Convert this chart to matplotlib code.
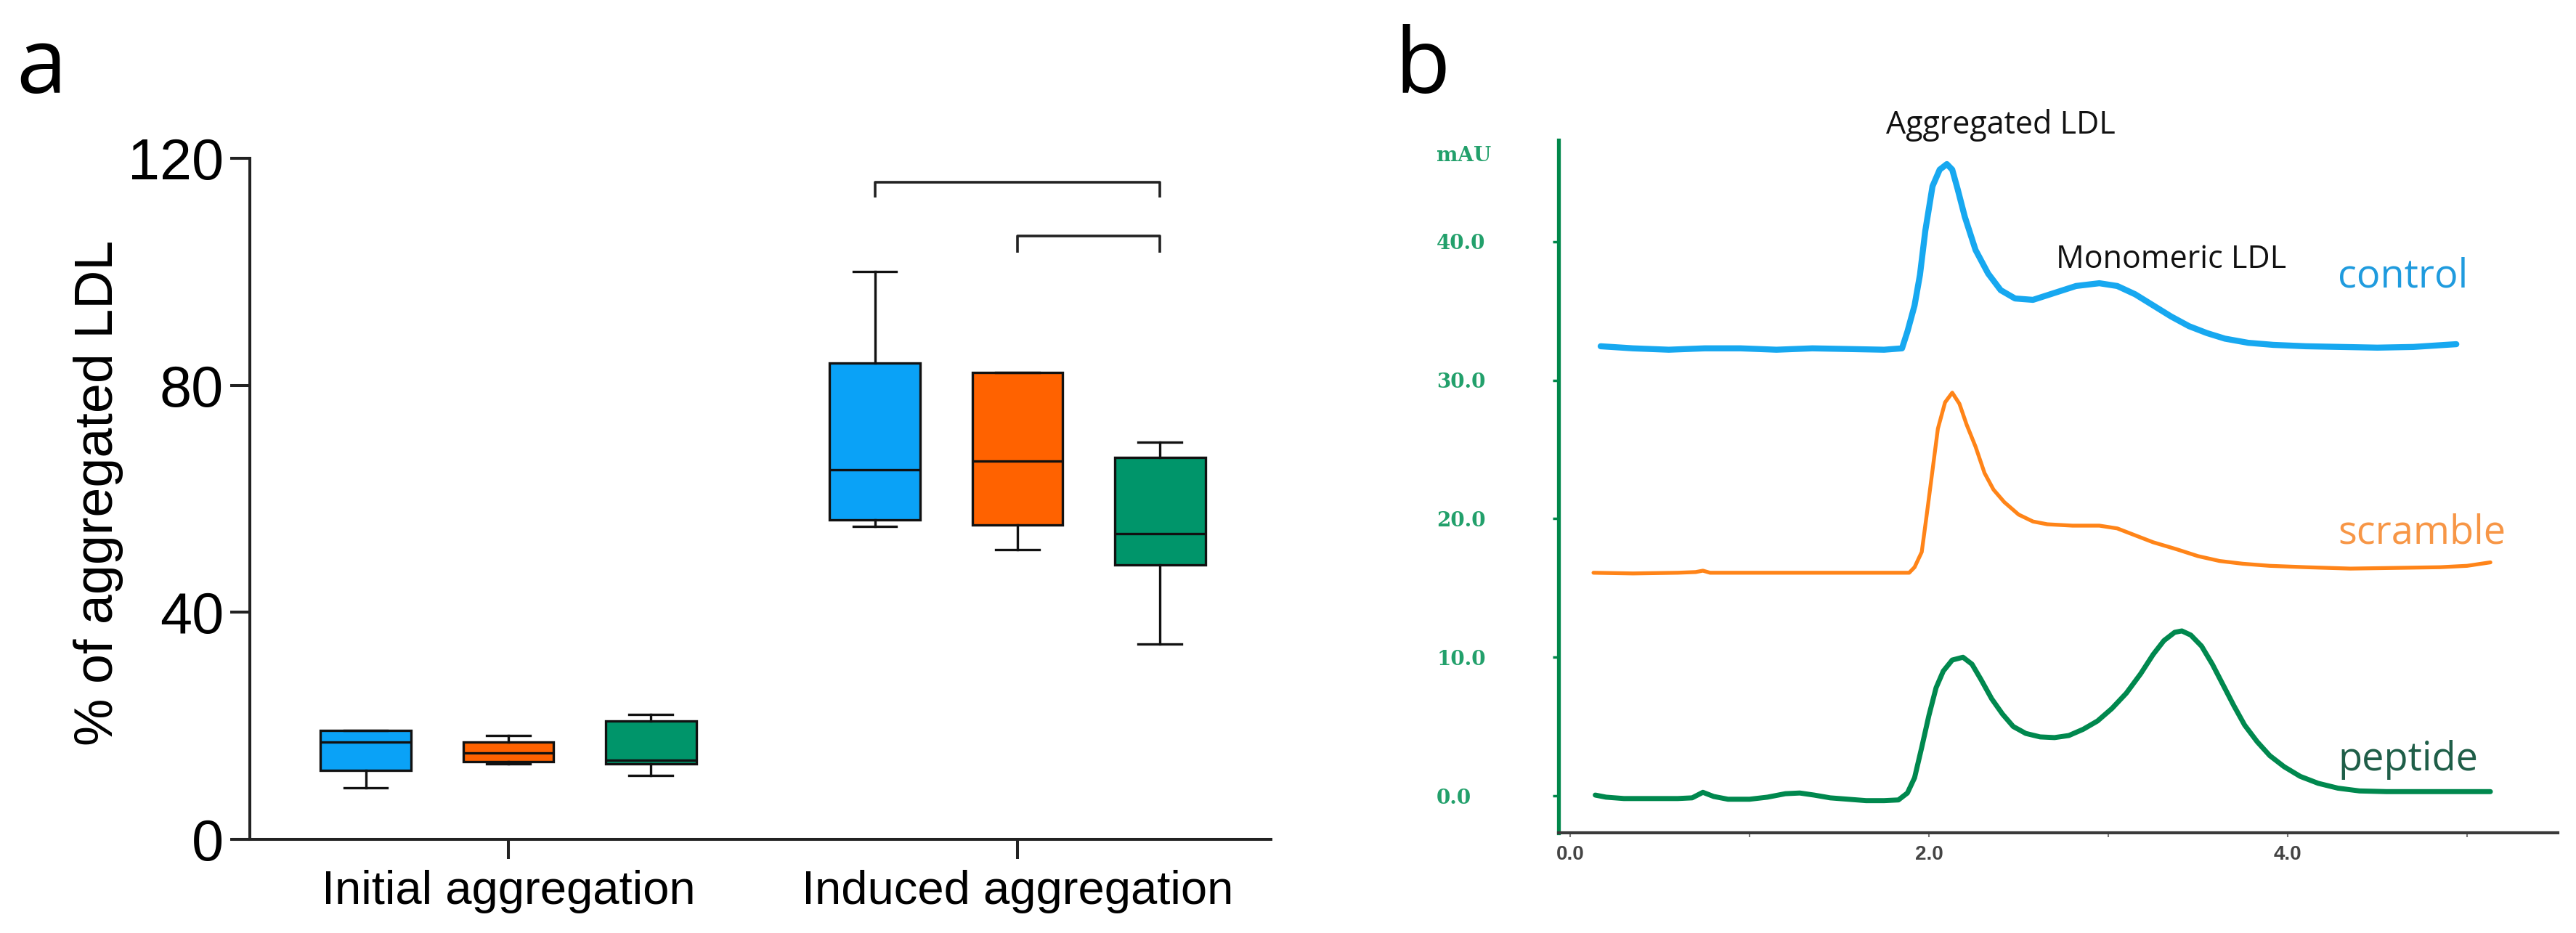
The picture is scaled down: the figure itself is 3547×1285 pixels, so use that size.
import matplotlib
matplotlib.use("Agg")
import matplotlib.pyplot as plt
from matplotlib import transforms

plt.rcParams['font.family'] = ['Liberation Sans', 'DejaVu Sans']

# ---- panel a : box plots (% of aggregated LDL)
groups = ["Initial aggregation", "Induced aggregation"]
conditions = ["control", "scramble", "peptide"]
box_colors = ['#0AA2F7', '#FF6200', '#00956A']
# rows = groups, cols = conditions
q1 = [[12.2, 13.7, 13.3], [56.3, 55.4, 48.3]]
med = [[17.1, 15.2, 13.9], [65.1, 66.6, 53.8]]
q3 = [[19.2, 17.1, 20.9], [83.9, 82.3, 67.3]]
whis_lo = [[9.1, 13.3, 11.2], [55.2, 51.1, 34.4]]
whis_hi = [[19.2, 18.3, 22.0], [100.0, 82.3, 70.0]]
yticks_a = [0, 40, 80, 120]

# significance brackets (within induced aggregation)
bracket_from = [0, 1]
bracket_to = [2, 2]
bracket_top = [115.8, 106.3]
bracket_end = [113.1, 103.4]

# ---- panel b : chromatograms
t_control = [0.17, 0.35, 0.55, 0.75, 0.95, 1.15, 1.35, 1.55, 1.75, 1.85, 1.88, 1.92, 1.95,
             1.98, 2.02, 2.06, 2.10, 2.13, 2.16, 2.20, 2.26, 2.33, 2.40, 2.48, 2.58, 2.70,
             2.82, 2.95, 3.05, 3.15, 3.25, 3.35, 3.45, 3.55, 3.65, 3.78, 3.92, 4.10, 4.30,
             4.50, 4.70, 4.94]
a_control = [32.45, 32.3, 32.2, 32.3, 32.3, 32.2, 32.3, 32.25, 32.2, 32.3, 33.5, 35.4, 37.6,
             40.8, 44.0, 45.2, 45.6, 45.2, 43.8, 41.8, 39.4, 37.7, 36.5, 35.9, 35.8, 36.3,
             36.8, 37.0, 36.8, 36.2, 35.4, 34.6, 33.9, 33.4, 33.0, 32.7, 32.55, 32.45, 32.4,
             32.35, 32.4, 32.6]

t_scramble = [0.13, 0.35, 0.60, 0.70, 0.74, 0.78, 1.00, 1.30, 1.60, 1.89, 1.92, 1.96, 1.99,
              2.02, 2.05, 2.09, 2.13, 2.17, 2.21, 2.26, 2.31, 2.36, 2.42, 2.50, 2.58, 2.66,
              2.80, 2.95, 3.05, 3.15, 3.25, 3.38, 3.50, 3.62, 3.75, 3.90, 4.10, 4.35, 4.60,
              4.85, 5.00, 5.13]
a_scramble = [16.1, 16.05, 16.1, 16.15, 16.25, 16.1, 16.1, 16.1, 16.1, 16.1, 16.5, 17.6, 20.5,
              23.5, 26.5, 28.4, 29.1, 28.3, 26.8, 25.2, 23.3, 22.1, 21.2, 20.3, 19.8, 19.6,
              19.5, 19.5, 19.3, 18.8, 18.3, 17.8, 17.3, 16.95, 16.75, 16.6, 16.5, 16.4, 16.45,
              16.5, 16.6, 16.85]

t_peptide = [0.14, 0.20, 0.30, 0.45, 0.60, 0.68, 0.74, 0.80, 0.88, 1.00, 1.10, 1.20, 1.28,
             1.36, 1.45, 1.55, 1.65, 1.75, 1.83, 1.88, 1.92, 1.96, 2.00, 2.04, 2.08, 2.13,
             2.19, 2.24, 2.29, 2.35, 2.41, 2.47, 2.54, 2.62, 2.70, 2.78, 2.86, 2.94, 3.02,
             3.10, 3.18, 3.25, 3.31, 3.37, 3.41, 3.46, 3.52, 3.58, 3.64, 3.70, 3.76, 3.83,
             3.90, 3.98, 4.07, 4.17, 4.28, 4.40, 4.55, 4.80, 5.13]
a_peptide = [0.05, -0.1, -0.2, -0.2, -0.2, -0.15, 0.25, -0.05, -0.25, -0.25, -0.1, 0.15, 0.2,
             0.05, -0.15, -0.25, -0.35, -0.35, -0.3, 0.2, 1.3, 3.5, 5.8, 7.8, 9.0, 9.8,
             10.0, 9.5, 8.4, 7.0, 5.9, 5.0, 4.5, 4.25, 4.2, 4.35, 4.8, 5.4, 6.3,
             7.4, 8.8, 10.2, 11.2, 11.8, 11.9, 11.6, 10.8, 9.5, 8.0, 6.5, 5.1, 3.9,
             2.9, 2.1, 1.4, 0.9, 0.55, 0.35, 0.3, 0.3, 0.3]

series_names = ["control", "scramble", "peptide"]
series_t = [t_control, t_scramble, t_peptide]
series_a = [a_control, a_scramble, a_peptide]
line_colors = ['#17A8F0', '#FF8418', '#00884E']
label_colors = ['#1F9BDE', '#F79646', '#1F5E48']
label_y = [37.5, 19.0, 2.6]
yticks_b = [0, 10, 20, 30, 40]
xticks_b = [0, 1, 2, 3, 4, 5]
xticklabels_b = ["0.0", "", "2.0", "", "4.0", ""]

W, H = 3548, 1285
fig = plt.figure(figsize=(W / 100, H / 100), dpi=100)

# ================= panel a
ax = fig.add_axes([322 / W, (H - 1156) / H, (1750 - 322) / W, (1156 - 218) / H])
offsets = [-0.28, 0.0, 0.28]
stats, pos, cols = [], [], []
for g in range(len(groups)):
    for c in range(len(conditions)):
        stats.append(dict(med=med[g][c], q1=q1[g][c], q3=q3[g][c],
                          whislo=whis_lo[g][c], whishi=whis_hi[g][c], fliers=[]))
        pos.append(g + offsets[c])
        cols.append(box_colors[c])

lw = 2.4
res = ax.bxp(stats, positions=pos, widths=0.178, patch_artist=True, showfliers=False,
             capwidths=0.085,
             boxprops=dict(edgecolor='#111111', linewidth=lw),
             medianprops=dict(color='#111111', linewidth=lw),
             whiskerprops=dict(color='#111111', linewidth=lw),
             capprops=dict(color='#111111', linewidth=lw))
for patch, col in zip(res['boxes'], cols):
    patch.set_facecolor(col)

for i in range(len(bracket_top)):
    x1 = 1 + offsets[bracket_from[i]]
    x2 = 1 + offsets[bracket_to[i]]
    ax.plot([x1, x1, x2, x2], [bracket_end[i], bracket_top[i], bracket_top[i], bracket_end[i]],
            color='#222222', lw=2.6, solid_capstyle='butt')

ax.set_xlim(-0.5392, 1.4979)
ax.set_ylim(0, 120)
for s in ['top', 'right']:
    ax.spines[s].set_visible(False)
ax.spines['left'].set_position(('data', -0.5078))
for s in ['left', 'bottom']:
    ax.spines[s].set_linewidth(2.9)
    ax.spines[s].set_color('#222222')
ax.set_yticks(yticks_a)
ax.set_xticks([0, 1])
ax.set_xticklabels(groups)
ax.tick_params(axis='y', direction='out', length=19.5, width=2.9, pad=6.5,
               labelsize=57, color='#222222')
ax.tick_params(axis='x', direction='out', length=19.5, width=2.9, pad=11,
               labelsize=47, color='#222222')
fig.text(136 / W, (H - 679) / H, "% of aggregated LDL", rotation=90,
         ha='center', va='center', fontsize=53)

# ================= panel b
ax2 = fig.add_axes([2146 / W, (H - 1147) / H, (3522 - 2146) / W, (1147 - 193) / H])
widths_b = [6.0, 3.8, 5.0]
for i in range(len(series_names)):
    ax2.plot(series_t[i], series_a[i], color=line_colors[i], lw=widths_b[i],
             solid_joinstyle='round', solid_capstyle='round')
    ax2.text(4.28, label_y[i], series_names[i], color=label_colors[i],
             ha='left', va='center', fontsize=39, family=['Open Sans', 'DejaVu Sans'])

ax2.text(2.40, 48.4, "Aggregated LDL", ha='center', va='center', fontsize=31,
         family=['Open Sans', 'DejaVu Sans'], color='#111111')
ax2.text(3.35, 38.7, "Monomeric LDL", ha='center', va='center', fontsize=31,
         family=['Open Sans', 'DejaVu Sans'], color='#111111')

ax2.set_xlim(-0.0648, 5.506)
ax2.set_ylim(-2.673, 47.33)
for s in ['top', 'right']:
    ax2.spines[s].set_visible(False)
ax2.spines['left'].set_color('#00874A')
ax2.spines['left'].set_linewidth(3.8)
ax2.spines['bottom'].set_color('#3A3A3A')
ax2.spines['bottom'].set_linewidth(3.0)

ax2.set_yticks(yticks_b)
ax2.set_yticklabels(["%.1f" % v for v in yticks_b])
ax2.tick_params(axis='y', direction='out', length=5.8, width=2.5, color='#00874A',
                pad=115, labelsize=20, labelcolor='#22A06B')
for lab in ax2.get_yticklabels():
    lab.set_ha('left')
    lab.set_family(['DejaVu Serif'])
    lab.set_weight('bold')
ax2.set_xticks(xticks_b)
ax2.set_xticklabels(xticklabels_b)
ax2.tick_params(axis='x', direction='out', length=4, width=1.5, color='#777777',
                pad=8, labelsize=20, labelcolor='#444444')
for lab in ax2.get_xticklabels():
    lab.set_weight('bold')

blend = transforms.blended_transform_factory(fig.transFigure, ax2.transData)
ax2.text(1978 / W, 46.2, "mAU", transform=blend, ha='left', va='center',
         fontsize=20, color='#22A06B', family=['DejaVu Serif'], weight='bold')

# panel letters
fig.text(22 / W, (H - 128) / H, "a", ha='left', va='baseline', fontsize=90,
         family=['Open Sans', 'DejaVu Sans'])
fig.text(1920 / W, (H - 128) / H, "b", ha='left', va='baseline', fontsize=90,
         family=['Open Sans', 'DejaVu Sans'])

fig.savefig("out.png", dpi=100, facecolor='white')
